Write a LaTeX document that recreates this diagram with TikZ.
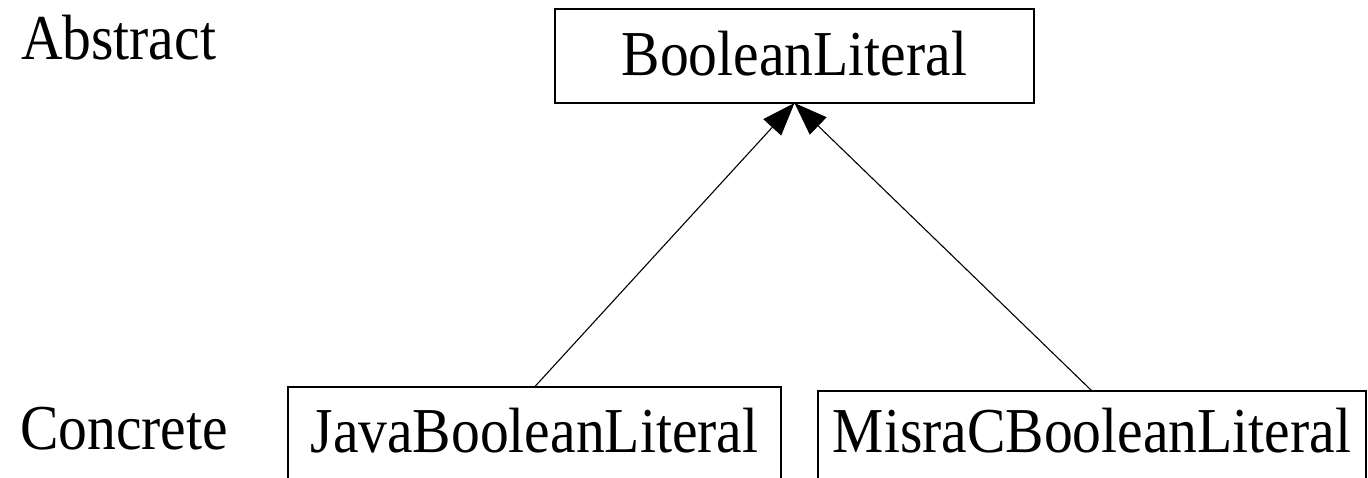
\documentclass[tikz,border=0pt]{standalone}
\usepackage{fontspec}
\setmainfont{Liberation Serif}[FakeStretch=0.9]
\usetikzlibrary{arrows.meta}
\begin{document}
\begin{tikzpicture}[x=1pt,y=-1pt,
  every node/.style={inner sep=0pt,outer sep=0pt,font=\fontsize{64}{70}\selectfont},
  classbox/.style={draw,line width=1.6pt,anchor=north west,text depth=60pt},
  level/.style={anchor=base west},
  inherit/.style={line width=1.1pt,-{Triangle[length=33pt,width=24pt]}}]
  \useasboundingbox (0,0) rectangle (1368,478);
  \clip (0,0) rectangle (1368,478);
  % level labels
  \node[level] (abstract) at (21,60) {Abstract};
  \node[level] (concrete) at (20,449) {Concrete};
  % classes
  \node[classbox,minimum width=479pt,text height=67pt,text depth=27pt] (base) at (555,9) {BooleanLiteral};
  \node[classbox,minimum width=493pt,text height=65pt] (java) at (288,387) {JavaBooleanLiteral};
  \node[classbox,minimum width=548pt,text height=61pt] (misra) at (818,391) {MisraCBooleanLiteral};
  % generalisation arrows
  \draw[inherit] (java.north) -- (base.south);
  \draw[inherit] (misra.north) -- (base.south);
\end{tikzpicture}
\end{document}
